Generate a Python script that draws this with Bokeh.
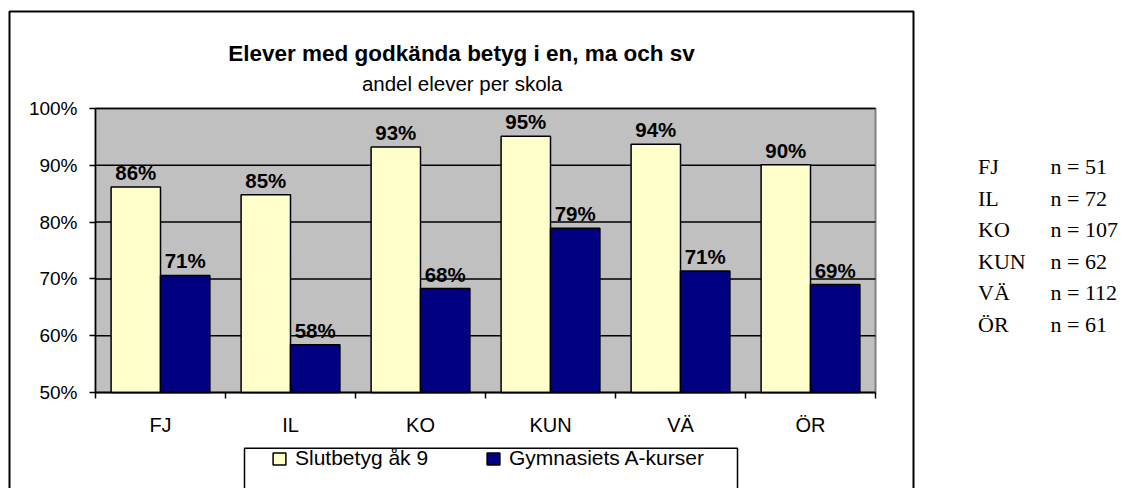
from bokeh.plotting import figure
from bokeh.models import (Range1d, LinearAxis, FixedTicker, NumeralTickFormatter,
                          ColumnDataSource, LabelSet, Label, Legend, LegendItem,
                          PolyAnnotation, BoxAnnotation)
from bokeh.transform import dodge
from bokeh.core.properties import value
from bokeh.embed import file_html
from bokeh.resources import INLINE

# ---------------- data ----------------
schools = ["FJ", "IL", "KO", "KUN", "VÄ", "ÖR"]
slutbetyg = [0.862, 0.848, 0.932, 0.951, 0.937, 0.901]
gymnasiet = [0.706, 0.584, 0.683, 0.789, 0.714, 0.690]
n_students = [51, 72, 107, 62, 112, 61]
series_names = ["Slutbetyg åk 9", "Gymnasiets A-kurser"]
y_ticks = [0.5, 0.6, 0.7, 0.8, 0.9, 1.0]
title_text = "Elever med godkända betyg i en, ma och sv"
subtitle_text = "andel elever per skola"

# ---------------- layout (canvas pixels, origin top-left) ----------------
W, H = 1125, 488
PL, PT, PR, PB = 95, 108, 875, 392      # inner plot area
SANS = "Liberation Sans"
SERIF = "Liberation Serif"
NCAT = len(schools)
Y0, Y1 = y_ticks[0], y_ticks[-1]

# data ranges chosen so that the inner plot area maps onto [0, NCAT] x [Y0, Y1]
cat_per_px = NCAT / (PR - PL)
pct_per_px = (Y1 - Y0) / (PB - PT)
cat_range = Range1d(-PL * cat_per_px, NCAT + (W - PR) * cat_per_px)
pct_range = Range1d(Y0 - (H - PB) * pct_per_px, Y1 + PT * pct_per_px)

centers = [i + 0.5 for i in range(NCAT)]
edges = list(range(NCAT + 1))

src = ColumnDataSource(dict(
    pos=centers,
    school=schools,
    slut=slutbetyg,
    gym=gymnasiet,
    slut_lbl=[f"{round(v * 100):d}%" for v in slutbetyg],
    gym_lbl=[f"{round(v * 100):d}%" for v in gymnasiet],
))

p = figure(x_range=Range1d(0, W), y_range=Range1d(H, 0), width=W, height=H,
           min_border=0, x_axis_location=None, y_axis_location=None,
           toolbar_location=None, output_backend="svg")
p.extra_x_ranges = {"cat": cat_range}
p.extra_y_ranges = {"pct": pct_range}
p.outline_line_color = None
p.background_fill_color = "white"
p.border_fill_color = "white"
p.grid.visible = False

DATA = dict(x_range_name="cat", y_range_name="pct")

# plot area background
p.add_layout(BoxAnnotation(left=0, right=NCAT, bottom=Y0, top=Y1, level="underlay",
                           fill_color="#C0C0C0", fill_alpha=1,
                           line_color="#808080", line_width=2, line_alpha=1, **DATA))

# horizontal gridlines
p.segment(x0=0, x1=NCAT, y0=y_ticks, y1=y_ticks, line_color="black", line_width=1.5,
          **DATA)

# bars
BW = 0.38
r1 = p.vbar(x=dodge("pos", -BW / 2), top="slut", bottom=Y0, width=BW, source=src,
            fill_color="#FFFFCC", line_color="black", line_width=1.5, **DATA)
r2 = p.vbar(x=dodge("pos", BW / 2), top="gym", bottom=Y0, width=BW, source=src,
            fill_color="#000080", line_color="black", line_width=1.5, **DATA)

# y axis
yax = LinearAxis(fixed_location=0, bounds=(Y0, Y1),
                 ticker=FixedTicker(ticks=y_ticks),
                 formatter=NumeralTickFormatter(format="0%"),
                 axis_line_color="black", axis_line_width=1.5,
                 major_tick_in=0, major_tick_out=6, major_tick_line_width=1.5,
                 minor_tick_line_color=None, major_label_standoff=12,
                 major_label_text_font=SANS, major_label_text_font_size="19px",
                 major_label_text_color="black", **DATA)
p.add_layout(yax, "left")

# x axis: labels at category centres, ticks at category boundaries
xax = LinearAxis(fixed_location=Y0, bounds=(0, NCAT),
                 ticker=FixedTicker(ticks=centers, minor_ticks=edges),
                 major_label_overrides={c: s for c, s in zip(centers, schools)},
                 axis_line_color="black", axis_line_width=1.5,
                 major_tick_line_color=None, major_tick_in=0, major_tick_out=0,
                 minor_tick_in=0, minor_tick_out=6, minor_tick_line_color="black",
                 minor_tick_line_width=1.5, major_label_standoff=15,
                 major_label_text_font=SANS, major_label_text_font_size="20px",
                 major_label_text_color="black", **DATA)
p.add_layout(xax, "below")

# value labels
for col, lbl, off in (("slut", "slut_lbl", -BW / 2), ("gym", "gym_lbl", BW / 2)):
    p.add_layout(LabelSet(x=dodge("pos", off), y=col, text=lbl, source=src,
                          text_align="center", text_baseline="alphabetic",
                          y_offset=7, text_font=value(SANS), text_font_size="20.5px",
                          text_font_style="bold", text_color="black", **DATA))

# legend
legend = Legend(items=[LegendItem(label=series_names[0], renderers=[r1]),
                       LegendItem(label=series_names[1], renderers=[r2])],
                orientation="horizontal", location=(271, 18),
                padding=0, margin=0, spacing=0, label_standoff=8,
                glyph_width=16, glyph_height=15, label_width=190,
                border_line_color=None, background_fill_alpha=0,
                label_text_font=SANS, label_text_font_size="21px",
                label_text_color="black")
p.add_layout(legend, "center")
p.add_layout(PolyAnnotation(xs=[244, 244, 737, 737], ys=[H + 10, 447.7, 447.7, H + 10],
                            fill_alpha=0, line_color="black", line_alpha=1,
                            line_width=1.5))

# outer chart border
p.add_layout(PolyAnnotation(xs=[9, 9, 913, 913], ys=[H + 10, 11, 11, H + 10],
                            fill_alpha=0, line_color="black", line_alpha=1,
                            line_width=2))

# titles
p.add_layout(Label(x=461, y=52.7, text=title_text, text_align="center",
                   text_baseline="alphabetic", text_font=SANS, text_font_size="22.5px",
                   text_font_style="bold", text_color="black"))
p.add_layout(Label(x=461.7, y=83.3, text=subtitle_text, text_align="center",
                   text_baseline="alphabetic", text_font=SANS, text_font_size="20.5px",
                   text_color="black"))

# side table of sample sizes
for i, (s, n) in enumerate(zip(schools, n_students)):
    base = 166 + 31.5 * i
    p.add_layout(Label(x=977.5, y=base, text=s, text_align="left",
                       text_baseline="alphabetic", text_font=SERIF,
                       text_font_size="22px", text_color="black"))
    p.add_layout(Label(x=1050, y=base, text=f"n = {n}", text_align="left",
                       text_baseline="alphabetic", text_font=SERIF,
                       text_font_size="22px", text_color="black"))

open("out.html", "w").write(file_html(p, INLINE))
